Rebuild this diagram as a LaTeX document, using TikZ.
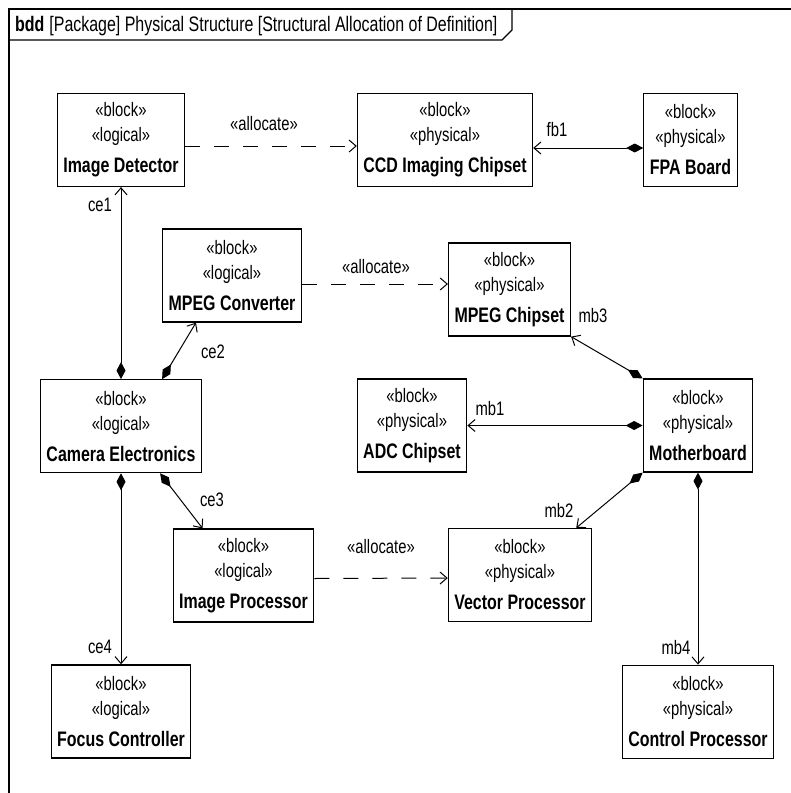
\documentclass[tikz,border=0pt]{standalone}
\usepackage{fontspec}
\setmainfont{Liberation Sans}[FakeStretch=0.76]
\usepackage{tikz}
\usetikzlibrary{positioning, arrows.meta}

\begin{document}
\begin{tikzpicture}[
    x=1pt, y=-1pt,
    node distance=192pt,
    block/.style={rectangle, draw, line width=1.2pt, minimum height=93pt, inner xsep=6pt, inner ysep=0pt, align=center, font=\fontsize{19.5}{25}\selectfont},
    lbl/.style={inner sep=0pt, font=\fontsize{19.5}{20}\selectfont},
    comp/.style={line width=1pt, {Diamond[length=17pt,width=9pt]}-{Straight Barb[length=7pt,width=12pt]}},
    alloc/.style={line width=1pt, dash pattern=on 15pt off 14pt, -{Straight Barb[length=7pt,width=12pt]}}
]
\useasboundingbox (0,0) rectangle (791,793);

% Frame and heading
\draw[line width=1.5pt] (9,793) -- (9,9) -- (791,9);
\draw[line width=1.2pt] (9,40) -- (502,40) -- (512,30) -- (512,9);
\node[anchor=west, inner sep=0pt, font=\fontsize{21}{21}\selectfont] (title) at (15,26)
    {\textbf{bdd}\hspace{5pt}[Package] Physical Structure [Structural Allocation of Definition]};

% Logical blocks
\node[block] (det) at (121,140) {«block»\\«logical»\\[6pt]{\bfseries\fontsize{21}{25}\selectfont Image Detector}};
\node[block, below=of det] (camera) {«block»\\«logical»\\[6pt]{\bfseries\fontsize{21}{25}\selectfont Camera Electronics}};
\node[block, below=191pt of camera] (focus) {«block»\\«logical»\\[6pt]{\bfseries\fontsize{21}{25}\selectfont Focus Controller}};
\node[block] (mpegc) at (232,275.5) {«block»\\«logical»\\[6pt]{\bfseries\fontsize{21}{25}\selectfont MPEG Converter}};
\node[block] (improc) at (243.5,575.5) {«block»\\«logical»\\[6pt]{\bfseries\fontsize{21}{25}\selectfont Image Processor}};

% Physical blocks
\node[block] (ccd) at (445,140) {«block»\\«physical»\\[6pt]{\bfseries\fontsize{21}{25}\selectfont CCD Imaging Chipset}};
\node[block] (fpa) at (690.5,140) {«block»\\«physical»\\[6pt]{\bfseries\fontsize{21}{25}\selectfont FPA Board}};
\node[block] (mpegchip) at (509.5,289.5) {«block»\\«physical»\\[6pt]{\bfseries\fontsize{21}{25}\selectfont MPEG Chipset}};
\node[block] (adc) at (412,425.5) {«block»\\«physical»\\[6pt]{\bfseries\fontsize{21}{25}\selectfont ADC Chipset}};
\node[block] (mother) at (698,425.5) {«block»\\«physical»\\[6pt]{\bfseries\fontsize{21}{25}\selectfont Motherboard}};
\node[block] (vecproc) at (520,575) {«block»\\«physical»\\[6pt]{\bfseries\fontsize{21}{25}\selectfont Vector Processor}};
\node[block, below=of mother] (ctrlproc) {«block»\\«physical»\\[6pt]{\bfseries\fontsize{21}{25}\selectfont Control Processor}};

% Part associations
\draw[comp] (camera) -- (det);
\draw[comp] ([xshift=-40pt]camera.north east) -- ([xshift=34pt]mpegc.south west);
\draw[comp] ([xshift=-42pt]camera.south east) -- ([xshift=30pt]improc.north west);
\draw[comp] (camera) -- (focus);
\draw[comp] ([yshift=-8pt]fpa.west) -- ([yshift=-8pt]ccd.east);
\draw[comp] (mother) -- (adc);
\draw[comp] (mother.north west) -- (mpegchip.south east);
\draw[comp] (mother.south west) -- ([xshift=-16pt]vecproc.north east);
\draw[comp] (mother) -- (ctrlproc);

\node[lbl] (ce1) at (100,205) {ce1};
\node[lbl] (ce2) at (213,352) {ce2};
\node[lbl] (ce3) at (212,500) {ce3};
\node[lbl] (ce4) at (100,647) {ce4};
\node[lbl] (fb1) at (557,130) {fb1};
\node[lbl] (mb1) at (490,409) {mb1};
\node[lbl] (mb2) at (559,511) {mb2};
\node[lbl] (mb3) at (593,316) {mb3};
\node[lbl] (mb4) at (676,648) {mb4};

% Allocations
\draw[alloc] ([yshift=-6pt]det.east) -- ([yshift=-6pt]ccd.west);
\draw[alloc] ([yshift=-8.5pt]mpegc.east) -- ([yshift=5.5pt]mpegchip.west);
\draw[alloc] ([yshift=-3pt]improc.east) -- ([yshift=-3pt]vecproc.west);

\node[lbl] (alloc1) at (264,124) {«allocate»};
\node[lbl] (alloc2) at (376,267) {«allocate»};
\node[lbl] (alloc3) at (381,547) {«allocate»};

\end{tikzpicture}
\end{document}
